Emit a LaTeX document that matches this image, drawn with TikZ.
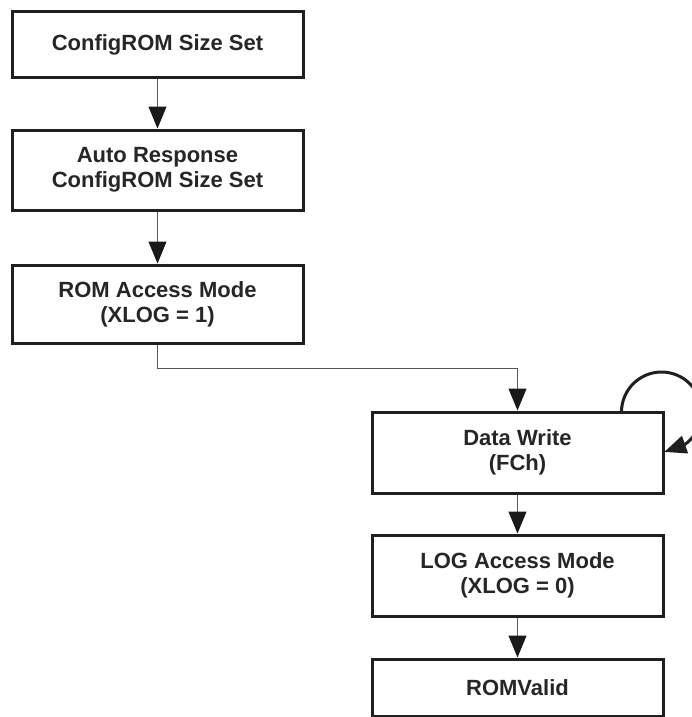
\documentclass[tikz,border=0pt]{standalone}
\usepackage{fontspec}
\setmainfont{Liberation Sans}
\usetikzlibrary{arrows.meta,bending}
\begin{document}
\begin{tikzpicture}[x=1pt,y=1pt,
  box/.style={draw=black!88,line width=3pt,minimum width=291pt,inner sep=0pt,
    align=center,font=\fontsize{22}{25}\selectfont\bfseries,text=black!85},
  conn/.style={draw=black!65,line width=1pt,-{Triangle[width=18pt,length=22pt,color=black!90]}},
  loopline/.style={draw=black!88,line width=3pt,-{Triangle[width=18pt,length=22pt,color=black!88,flex]}}]
\useasboundingbox (0,0) rectangle (692,-717);
\node[box,minimum height=65pt] (b1) at (157.5,-44.5) {ConfigROM Size Set};
\node[box,minimum height=80pt] (b2) at (157.5,-170) {Auto Response\\ConfigROM Size Set};
\node[box,minimum height=78pt] (b3) at (157.5,-304) {ROM Access Mode\\(XLOG = 1)};
\node[box,minimum height=81pt] (b4) at (517.5,-452.5) {Data Write\\(FCh)};
\node[box,minimum height=81pt] (b5) at (517.5,-575.5) {LOG Access Mode\\(XLOG = 0)};
\node[box,minimum height=57pt] (b6) at (517.5,-687.5) {ROMValid};
\coordinate (turn1) at (157.5,-368);
\coordinate (turn2) at (517.5,-368);
\draw[conn] (b1.south) -- (b2.north);
\draw[conn] (b2.south) -- (b3.north);
\draw[draw=black!65,line width=1pt] (b3.south) -- (turn1) -- (turn2);
\draw[conn] (turn2) -- (b4.north);
\draw[conn] (b4.south) -- (b5.north);
\draw[conn] (b5.south) -- (b6.north);
\coordinate (loopstart) at ([xshift=-43pt,yshift=-1.5pt]b4.north east);
\draw[loopline] (loopstart) arc[start angle=180,end angle=-86,radius=40];
\end{tikzpicture}
\end{document}
